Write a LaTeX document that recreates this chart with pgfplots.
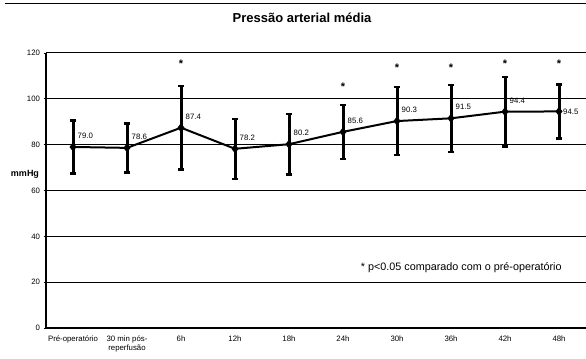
\documentclass[border=0pt]{standalone}
\usepackage{pgfplots}
\pgfplotsset{compat=1.18}
\usepackage{pgfplotstable}
\usepackage{fontspec}
\setmainfont{Liberation Sans}
\pgfplotstableread{
x y err
0 79.0 11.5
1 78.6 10.7
2 87.4 18.3
3 78.2 13.1
4 80.2 13.3
5 85.6 11.8
6 90.3 14.8
7 91.5 14.6
8 94.4 15.2
9 94.5 11.8
}\pam
\pgfplotstableread{
x y
2 116.9
5 106.9
6 115.2
7 115.2
8 116.9
9 116.9
}\stars
\begin{document}
\begin{tikzpicture}
\begin{axis}[
  name=ax,
  scale only axis, width=540pt, height=275pt,
  xmin=-0.5, xmax=9.5, ymin=0, ymax=120,
  ytick={0,20,...,120},
  xtick={0,...,9},
  xticklabels={Pré-operatório,{30 min pós-\\reperfusão},6h,12h,18h,24h,30h,36h,42h,48h},
  x tick label style={align=center, font=\fontsize{7.8}{8.8}\selectfont, yshift=-2pt},
  y tick label style={font=\fontsize{7.8}{8.8}\selectfont},
  /pgf/number format/assume math mode=true,
  axis x line=bottom, axis y line=left,
  axis line style={-, black, line width=1.5pt},
  x axis line style={line width=2pt},
  ymajorgrids, grid style={black, line width=1pt},
  xtick style={draw=none},
  ytick style={black, line width=0.7pt},
  tick align=outside, major tick length=2.5pt,
  clip=false,
]
\addplot[black, line width=2pt, mark=diamond*, mark size=3pt,
  error bars/.cd, y dir=both, y explicit,
  error mark=|,
  error bar style={line width=3pt},
  error mark options={line width=2.4pt, mark size=3.2pt, black}]
  table[x=x, y=y, y error=err] {\pam};
\addplot[draw=none, mark=none, nodes near coords,
  point meta=explicit symbolic,
  every node near coord/.append style={anchor=west, xshift=3.5pt, yshift=11pt,
    font=\fontsize{7.8}{8.8}\selectfont, inner sep=1pt}]
  coordinates {(0,79.0)[79.0] (1,78.6)[78.6] (2,87.4)[87.4] (3,78.2)[78.2]
   (4,80.2)[80.2] (5,85.6)[85.6] (6,90.3)[90.3] (7,91.5)[91.5] (8,94.4)[94.4]};
\addplot[draw=none, mark=none, nodes near coords,
  point meta=explicit symbolic,
  every node near coord/.append style={anchor=west, xshift=3pt,
    font=\fontsize{7.8}{8.8}\selectfont, inner sep=1pt}]
  coordinates {(9,94.5)[94.5]};
\addplot[draw=none, mark=none, nodes near coords={*},
  every node near coord/.append style={anchor=north, inner sep=0pt,
    font=\bfseries\fontsize{11}{12}\selectfont}]
  table[x=x, y=y] {\stars};
\node[font=\fontsize{10.8}{12}\selectfont] at (axis cs:7.19,26.2) {* p<0.05 comparado com o pré-operatório};
\end{axis}
\node[font=\bfseries\fontsize{9}{10}\selectfont] at ([shift={(-21pt,154pt)}]ax.south west) {mmHg};
\node[font=\bfseries\fontsize{13}{15}\selectfont] at ([shift={(256pt,35pt)}]ax.north west) {Pressão arterial média};
\draw[black, line width=1pt] ([shift={(-41pt,49pt)}]ax.north west) -- ([shift={(0pt,49pt)}]ax.north east);
\pgfresetboundingbox
\path[use as bounding box] ([shift={(-46pt,-30pt)}]ax.south west) rectangle ([shift={(0pt,53pt)}]ax.north east);
\end{tikzpicture}
\end{document}
